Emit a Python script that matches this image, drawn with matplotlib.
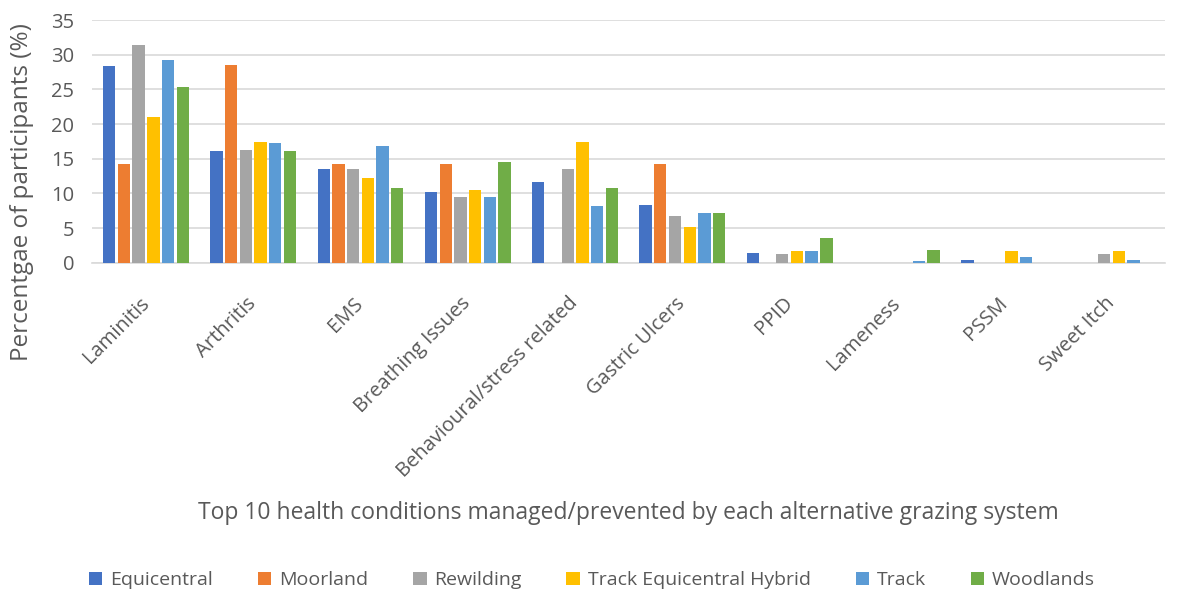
import numpy as np
import matplotlib.pyplot as plt

conditions = ['Laminitis', 'Arthritis', 'EMS', 'Breathing Issues', 'Behavioural/stress related',
              'Gastric Ulcers', 'PPID', 'Lameness', 'PSSM', 'Sweet Itch']
systems = ['Equicentral', 'Moorland', 'Rewilding', 'Track Equicentral Hybrid', 'Track', 'Woodlands']
colors = ['#4472C4', '#ED7D31', '#A5A5A5', '#FFC000', '#5B9BD5', '#70AD47']

equicentral = [28.4, 16.2, 13.5, 10.2, 11.6, 8.3, 1.4, 0, 0.4, 0]
moorland = [14.3, 28.5, 14.3, 14.3, 0, 14.3, 0, 0, 0, 0]
rewilding = [31.4, 16.3, 13.6, 9.5, 13.6, 6.8, 1.3, 0, 0, 1.3]
hybrid = [21.0, 17.4, 12.2, 10.5, 17.4, 5.2, 1.7, 0, 1.7, 1.7]
track = [29.2, 17.3, 16.8, 9.5, 8.2, 7.2, 1.7, 0.2, 0.8, 0.4]
woodlands = [25.4, 16.2, 10.8, 14.5, 10.8, 7.2, 3.6, 1.8, 0, 0]
series = [equicentral, moorland, rewilding, hybrid, track, woodlands]

plt.rcParams['font.family'] = ['Open Sans', 'DejaVu Sans']
txt = '#595959'

fig = plt.figure(figsize=(11.84, 5.92), dpi=100)
ax = fig.add_axes([0.078, 0.556, 0.906, 0.41])

x = np.arange(len(conditions))
step = 0.137
width = 0.115
for i, (name, vals) in enumerate(zip(systems, series)):
    ax.bar(x + (i - 2.5) * step, vals, width, color=colors[i], label=name, zorder=3)

ax.set_xlim(-0.5, len(conditions) - 0.5)
ax.set_ylim(0, 35)
ax.set_yticks(range(0, 36, 5))
ax.grid(axis='y', color='#D9D9D9', linewidth=1.2, zorder=0)
for s in ['top', 'right', 'left']:
    ax.spines[s].set_visible(False)
ax.spines['bottom'].set_color('#D9D9D9')
ax.spines['bottom'].set_linewidth(1.2)
ax.tick_params(axis='both', length=0, labelsize=14.5, colors=txt)
ax.tick_params(axis='y', pad=13)
ax.tick_params(axis='x', pad=27)
ax.set_xticks(x)
ax.set_xticklabels(conditions, rotation=45, ha='right', va='center', rotation_mode='anchor')
ax.set_ylabel('Percentgae of participants (%)', fontsize=17.5, color=txt)
ax.yaxis.set_label_coords(-0.054, 0.29)
ax.set_xlabel('Top 10 health conditions managed/prevented by each alternative grazing system',
              fontsize=16.5, color=txt, labelpad=14)

fig.legend(loc='lower center', ncol=6, frameon=False, fontsize=14, labelcolor=txt,
           bbox_to_anchor=(0.5, -0.025), handlelength=0.7, handleheight=0.7,
           columnspacing=2.3, handletextpad=0.4)

fig.savefig('out.png', dpi=100)
